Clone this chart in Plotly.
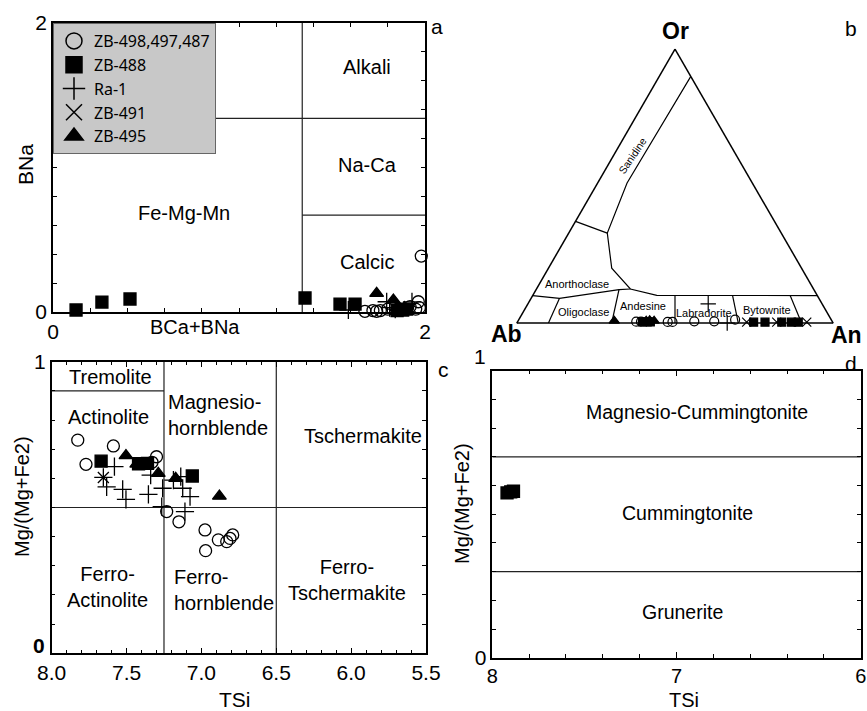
import plotly.graph_objects as go

W, H = 867, 711
def px(x): return x / W
def py(y): return 1 - y / H

FN = "Liberation Sans, Arial, sans-serif"
FR = "Liberation Sans, Arial, sans-serif"
FL = "Noto Sans, Open Sans, sans-serif"

# ---------------- data ----------------
series_names = ["ZB-498,497,487", "ZB-488", "Ra-1", "ZB-491", "ZB-495"]

# Panel a: BCa+BNa vs BNa
a_circ_x = [1.677, 1.72, 1.74, 1.76, 1.80, 1.86, 1.92, 1.95, 1.964, 1.97, 1.98]
a_circ_y = [0.005, 0.010, 0.005, 0.010, 0.020, 0.020, 0.037, 0.020, 0.071, 0.030, 0.387]
a_sq_x = [0.124, 0.263, 0.414, 1.355, 1.543, 1.624, 1.85, 1.88, 1.90]
a_sq_y = [0.014, 0.069, 0.090, 0.097, 0.055, 0.055, 0.010, 0.014, 0.020]
a_plus_x = [1.588, 1.794, 1.81, 1.84, 1.93]
a_plus_y = [0.014, 0.071, 0.030, 0.020, 0.070]
a_x_x = [1.85, 1.883, 1.91]
a_x_y = [0.014, 0.014, 0.020]
a_tri_x = [1.74, 1.83, 1.85, 1.866, 1.89]
a_tri_y = [0.129, 0.083, 0.030, 0.014, 0.030]

# Panel b: feldspar ternary (An, Or fractions)
b_circ_an = [0.375, 0.39, 0.475, 0.49, 0.558, 0.621, 0.684]
b_circ_or = [0.005, 0.005, 0.004, 0.004, 0.006, 0.006, 0.012]
b_sq_an = [0.395, 0.41, 0.42, 0.747, 0.783, 0.836, 0.867, 0.888]
b_sq_or = [0.004, 0.004, 0.004, 0.003, 0.003, 0.003, 0.003, 0.003]
b_plus_an = [0.57, 0.665]
b_plus_or = [0.07, 0.0]
b_x_an = [0.725, 0.82, 0.915]
b_x_or = [0.003, 0.003, 0.003]
b_tri_an = [0.304, 0.405, 0.415, 0.43]
b_tri_or = [0.008, 0.008, 0.010, 0.008]

# Feldspar field boundaries (An, Or)
fsp_lines = [
    [(0.10, 0.90), (0.093, 0.511), (0.122, 0.328), (0.20, 0.20), (0.297, 0.124), (0.392, 0.101), (0.90, 0.10)],
    [(0.0, 0.371), (0.122, 0.328)],
    [(0.0, 0.10), (0.09, 0.09), (0.262, 0.122), (0.297, 0.124)],
    [(0.09, 0.09), (0.10, 0.0)],
    [(0.262, 0.122), (0.30, 0.0)],
    [(0.45, 0.10), (0.50, 0.0)],
    [(0.632, 0.10), (0.70, 0.0)],
    [(0.814, 0.10), (0.90, 0.0)],
]

# Panel c: TSi vs Mg/(Mg+Fe2)
c_circ_x = [7.826, 7.588, 7.771, 7.30, 7.33, 7.232, 7.15, 6.976, 6.972, 6.887, 6.831, 6.809, 6.791]
c_circ_y = [0.731, 0.711, 0.648, 0.674, 0.655, 0.486, 0.451, 0.423, 0.352, 0.389, 0.383, 0.394, 0.406]
c_sq_x = [7.67, 7.42, 7.36, 7.061]
c_sq_y = [0.659, 0.650, 0.651, 0.608]
c_plus_x = [7.581, 7.655, 7.633, 7.526, 7.504, 7.354, 7.339, 7.259, 7.265, 7.138, 7.125, 7.076, 7.11, 7.187]
c_plus_y = [0.640, 0.603, 0.571, 0.562, 0.528, 0.545, 0.611, 0.566, 0.503, 0.606, 0.566, 0.537, 0.486, 0.594]
c_x_x = [7.655]
c_x_y = [0.603]
c_tri_x = [7.504, 7.432, 7.288, 7.172, 6.88]
c_tri_y = [0.678, 0.649, 0.617, 0.600, 0.539]

# Panel d: TSi vs Mg/(Mg+Fe2)
d_sq_x = [7.92, 7.90, 7.885]
d_sq_y = [0.574, 0.578, 0.580]

# ---------------- styles ----------------
def mk(sym, size, lw=1.3):
    return dict(symbol=sym, size=size, color="black", line=dict(color="black", width=lw))

symbols = ["circle-open", "square", "cross-thin-open", "x-thin-open", "triangle-up"]

fig = go.Figure()

# legend-only entries (bigger symbols)
for name, sym in zip(series_names, symbols):
    fig.add_trace(go.Scatter(x=[None], y=[None], mode="markers", name=name,
                             marker=mk(sym, 16, 1.5), xaxis="x", yaxis="y", showlegend=True))

def add_xy(xs, ys, sym, size, xa, ya, lw=1.3):
    fig.add_trace(go.Scatter(x=xs, y=ys, mode="markers", marker=mk(sym, size, lw),
                             xaxis=xa, yaxis=ya, showlegend=False, hoverinfo="skip",
                             cliponaxis=False))

# panel a
add_xy(a_circ_x, a_circ_y, "circle-open", 12, "x", "y")
add_xy(a_plus_x, a_plus_y, "cross-thin-open", 13, "x", "y")
add_xy(a_x_x, a_x_y, "x-thin-open", 11, "x", "y")
add_xy(a_sq_x, a_sq_y, "square", 12, "x", "y")
add_xy(a_tri_x, a_tri_y, "triangle-up", 12, "x", "y")

# panel c
add_xy(c_circ_x, c_circ_y, "circle-open", 12, "x2", "y2")
add_xy(c_plus_x, c_plus_y, "cross-thin-open", 13, "x2", "y2")
add_xy(c_x_x, c_x_y, "x-thin-open", 11, "x2", "y2")
add_xy(c_sq_x, c_sq_y, "square", 12, "x2", "y2")
add_xy(c_tri_x, c_tri_y, "triangle-up", 12, "x2", "y2")

# panel d
add_xy(d_sq_x, d_sq_y, "square", 12, "x3", "y3")

# panel b ternary
for seg_pts in fsp_lines:
    an = [p[0] for p in seg_pts]
    orr = [p[1] for p in seg_pts]
    ab = [1 - p[0] - p[1] for p in seg_pts]
    fig.add_trace(go.Scatterternary(a=orr, b=ab, c=an, mode="lines",
                                    line=dict(color="black", width=1.2),
                                    showlegend=False, hoverinfo="skip", subplot="ternary"))

def add_tern(an, orr, sym, size, lw=1.2):
    ab = [1 - a - o for a, o in zip(an, orr)]
    fig.add_trace(go.Scatterternary(a=orr, b=ab, c=an, mode="markers", marker=mk(sym, size, lw),
                                    showlegend=False, hoverinfo="skip", subplot="ternary",
                                    cliponaxis=False))

add_tern(b_circ_an, b_circ_or, "circle-open", 9)
add_tern(b_plus_an, b_plus_or, "cross-thin-open", 11)
add_tern(b_x_an, b_x_or, "x-thin-open", 9)
add_tern(b_sq_an, b_sq_or, "square", 8)
add_tern(b_tri_an, b_tri_or, "triangle-up", 9)

# ---------------- axes ----------------
def axis(domain, rng, tickvals, ticktext, dminor, size, anchor, font=FR):
    return dict(domain=domain, range=rng, tickvals=tickvals, ticktext=ticktext,
                ticks="inside", ticklen=6, tickwidth=1, tickcolor="black",
                minor=dict(ticks="inside", dtick=dminor, ticklen=4, tickwidth=1, tickcolor="black"),
                showline=True, linecolor="black", linewidth=1.5, mirror="ticks",
                showgrid=False, zeroline=False, anchor=anchor, automargin=False,
                tickfont=dict(family=font, size=size, color="black"))

fig.update_layout(
    xaxis=axis([px(53), px(425)], [0, 2], [0, 2], ["0", "2"], 0.2, 21, "y"),
    yaxis=axis([py(312), py(23)], [0, 2], [0, 2], ["0", "2"], 0.2, 21, "x"),
    xaxis2=axis([px(51.7), px(426)], [8.0, 5.5], [8.0, 7.5, 7.0, 6.5, 6.0, 5.5],
                ["8.0", "7.5", "7.0", "6.5", "6.0", "5.5"], 0.1, 21, "y2", font=FN),
    yaxis2=axis([py(653.3), py(361.7)], [0, 1], [1], ["1"], 0.1, 21, "x2", font=FN),
    xaxis3=axis([px(492.3), px(860.7)], [8, 6], [8, 7, 6], ["8", "7", "6"], 0.2, 20, "y3", font=FN),
    yaxis3=axis([py(657.7), py(370.7)], [0, 1], [0], ["0"], 0.1, 21, "x3", font=FN),
    ternary=dict(
        domain=dict(x=[px(516), px(834)], y=[py(323), py(49)]),
        sum=1, bgcolor="white",
        aaxis=dict(showticklabels=False, ticks="", showgrid=False, showline=True,
                   linecolor="black", linewidth=1.5, title=dict(text="")),
        baxis=dict(showticklabels=False, ticks="", showgrid=False, showline=True,
                   linecolor="black", linewidth=1.5, title=dict(text="")),
        caxis=dict(showticklabels=False, ticks="", showgrid=False, showline=True,
                   linecolor="black", linewidth=1.5, title=dict(text="")),
    ),
)

# ---------------- boundary shapes ----------------
def seg(xref, yref, x0, y0, x1, y1):
    fig.add_shape(type="line", xref=xref, yref=yref, x0=x0, y0=y0, x1=x1, y1=y1,
                  line=dict(color="#222", width=1.2), layer="below")

# panel a
seg("x", "y", 1.34, 0, 1.34, 2)
seg("x", "y", 0, 1.34, 2, 1.34)
seg("x", "y", 1.34, 0.67, 2, 0.67)
# panel c
seg("x2", "y2", 7.25, 0, 7.25, 1)
seg("x2", "y2", 6.5, 0, 6.5, 1)
seg("x2", "y2", 8.0, 0.5, 5.5, 0.5)
seg("x2", "y2", 8.0, 0.9, 7.25, 0.9)
# panel d
seg("x3", "y3", 8, 0.7, 6, 0.7)
seg("x3", "y3", 8, 0.3, 6, 0.3)

# ---------------- annotations ----------------
ann = []
def T(text, x, y, size, font=FN, angle=0, xref="paper", yref="paper", **kw):
    ann.append(dict(text=text, x=x, y=y, xref=xref, yref=yref, showarrow=False,
                    xanchor="center", yanchor="middle",
                    textangle=angle, font=dict(family=font, size=size, color="black"), **kw))

LS = 20
# panel a
T("Alkali", 1.69, 1.695, LS, xref="x", yref="y")
T("Na-Ca", 1.69, 1.017, LS, xref="x", yref="y")
T("Calcic", 1.69, 0.346, LS, xref="x", yref="y")
T("Fe-Mg-Mn", 0.705, 0.685, LS, xref="x", yref="y")
T("BCa+BNa", px(195), py(327), 20)
T("BNa", px(25), py(165), 21, angle=-90)
T("a", px(437), py(27), 21, font=FR)

# panel b
T("<b>Or</b>", px(675), py(31), 23)
T("<b>Ab</b>", px(506), py(334), 23)
T("<b>An</b>", px(846), py(335), 23)
T("b", px(851), py(28), 21, font=FR)
T("Sanidine", px(632), py(156), 10.5, angle=-56)
T("Anorthoclase", px(577), py(284), 11)
T("Oligoclase", px(583), py(312), 11)
T("Andesine", px(643), py(306), 11)
T("Labradorite", px(704), py(313), 11)
T("Bytownite", px(767), py(310), 11)

# panel c
T("Tremolite", 7.61, 0.948, LS, xref="x2", yref="y2")
T("Actinolite", 7.62, 0.81, LS, xref="x2", yref="y2")
T("Magnesio-<br>hornblende", 6.887, 0.817, LS, xref="x2", yref="y2", align="left")
T("Tschermakite", 5.92, 0.745, LS, xref="x2", yref="y2")
T("Ferro-<br>Actinolite", 7.63, 0.228, LS, xref="x2", yref="y2")
T("Ferro-<br>hornblende", 6.85, 0.217, LS, xref="x2", yref="y2", align="left")
T("Ferro-<br>Tschermakite", 6.03, 0.251, LS, xref="x2", yref="y2")
T("Mg/(Mg+Fe2)", px(22), py(497), 20, angle=-90)
T("TSi", px(235), py(699), 21)
T("<b>0</b>", px(39), py(645), 21)
T("c", px(443), py(369), 21, font=FR)

# panel d
T("Magnesio-Cummingtonite", 6.89, 0.857, 19.5, xref="x3", yref="y3")
T("Cummingtonite", 6.94, 0.503, 19.5, xref="x3", yref="y3")
T("Grunerite", 6.965, 0.16, 19.5, xref="x3", yref="y3")
T("Mg/(Mg+Fe2)", px(462), py(503), 20, angle=-90)
T("TSi", px(684), py(700), 20)
T("1", px(480), py(356), 21)
T("d", px(851), py(363), 21, font=FR)

fig.update_layout(
    annotations=ann,
    width=W, height=H,
    margin=dict(l=0, r=0, t=0, b=0, autoexpand=False),
    paper_bgcolor="white", plot_bgcolor="white",
    showlegend=True,
    legend=dict(x=px(53), y=py(23), xanchor="left", yanchor="top",
                bgcolor="#c8c8c8", bordercolor="#666", borderwidth=1,
                font=dict(family=FL, size=16, color="black"),
                tracegroupgap=0, itemwidth=30),
)

fig.write_html("out.html", config={"displayModeBar": False},
               post_script="document.body.style.margin='0';document.body.style.overflow='hidden';")
